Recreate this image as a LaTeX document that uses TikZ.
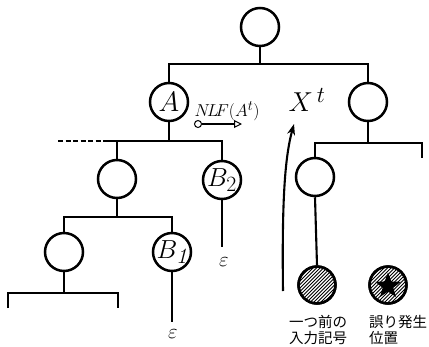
\documentclass[tikz,border=0pt]{standalone}
\usepackage{fontspec}
\newfontfamily\cjk{Noto Sans CJK JP}
\usetikzlibrary{arrows.meta,shapes.geometric,calc}
\newcommand{\bigmath}[2]{\scalebox{#1}{\fontsize{24.88}{26}\selectfont$#2$}}
\begin{document}
\begin{tikzpicture}[x=1pt,y=-1pt,
  nd/.style={circle,draw,line width=2.5pt,minimum size=38pt,inner sep=0pt},
  tr/.style={line width=2.1pt},
  eps/.style={font=\fontsize{22}{24}\selectfont},
  jp/.style={font=\cjk\fontsize{14.5}{16}\selectfont,align=left}]
\useasboundingbox (0,0) rectangle (429,346);
% nodes
\node[nd] (root) at (260,27) {};
\node[nd] (A) at (169,102) {};
\node (Al) at (A) {\bigmath{1.13}{A}};
\node[nd] (R) at (368,102) {};
\node[nd] (L) at (117,179) {};
\node[nd] (B2) at (222,180) {};
\node (B2l) at (B2) {\bigmath{1.05}{B_2}};
\node[nd] (LL) at (64,252) {};
\node[nd] (B1) at (172,252) {};
\node (B1l) at (B1) {\bigmath{1.05}{B_{\mathit{1}}}};
\node[nd] (R1) at (315,177) {};
\node[nd,minimum size=37pt] (H) at (317,285) {};
\node[nd,minimum size=37pt] (S) at (388,285) {};
% hatching
\foreach \c in {H,S}{
  \begin{scope}
    \clip (\c) circle (17.5pt);
    \foreach \k in {-42,-38.5,...,42}
      \draw[line width=0.9pt] ($(\c)+(\k-30,30)$) -- ($(\c)+(\k+30,-30)$);
  \end{scope}
  \draw[line width=2.5pt] (\c) circle (18.5pt);
}
\node[star,star points=5,star point ratio=2.4,fill=black,minimum size=27pt,inner sep=0pt] (st) at (388,286) {};
% coordinates for bars
\coordinate (b0) at (0,64);
\coordinate (b1) at (0,141);
\coordinate (b2) at (0,217);
\coordinate (b3) at (0,293);
\coordinate (b4) at (0,143);
\coordinate (d0) at (58,141);
\coordinate (d1) at (107,141);
\coordinate (e0) at (8,293);
\coordinate (e1) at (118,293);
\coordinate (e0b) at (8,308);
\coordinate (e1b) at (118,308);
\coordinate (f1) at (422,143);
\coordinate (f1b) at (422,158);
\coordinate (B1e) at (172,322);
\coordinate (B2e) at (222,247);
% tree
\draw[tr] (root.south) -- (root.south |- b0);
\draw[tr] (A.north) -- (A.north |- b0) -- (R.north |- b0) -- (R.north);
\draw[tr] (A.south) -- (A.south |- b1);
\draw[tr] (d1) -- (B2.north |- b1) -- (B2.north);
\draw[tr,dash pattern=on 5pt off 2.5pt] (d0) -- (d1);
\draw[tr] (L.north |- b1) -- (L.north);
\draw[tr] (L.south) -- (L.south |- b2);
\draw[tr] (LL.north) -- (LL.north |- b2) -- (B1.north |- b2) -- (B1.north);
\draw[tr] (LL.south) -- (LL.south |- b3);
\draw[tr] (e0b) -- (e0) -- (e1) -- (e1b);
\draw[tr] (B1.south) -- (B1e);
\draw[tr] (B2.south) -- (B2e);
\draw[tr] (R.south) -- (R.south |- b4);
\draw[tr] (R1.north) -- (R1.north |- b4) -- (f1) -- (f1b);
\draw[tr] (R1.south) -- (H.north);
% epsilons
\node[eps] (eps1) at (173,334) {$\varepsilon$};
\node[eps] (eps2) at (224,262) {$\varepsilon$};
% NLF
\node[circle,draw,line width=1pt,inner sep=0pt,minimum size=7pt] (nc) at (198,124) {};
\coordinate (ne) at (242,124);
\draw[line width=1.5pt,-{Triangle[open,length=8pt,width=8pt,line width=1pt]}] (nc) -- (ne);
\node[font=\fontsize{19}{21}\selectfont] (nlf) at (227,111) {$N\!L\!F(A^{t})$};
% X^t
\node (X) at (307,100) {\bigmath{1.1}{X^{\,t}}};
% curved arrow
\coordinate (ca0) at (283,291);
\coordinate (ca1) at (294,124);
\draw[line width=2.1pt,-{Stealth[length=11pt,width=8pt]}] (ca0) .. controls (282,210) and (284,160) .. (ca1);
% Japanese labels
\node[jp,align=center] (t1) at (318,330) {一つ前の\\入力記号};
\node[jp] (t2) at (398,330) {誤り発生\\位置};
\end{tikzpicture}
\end{document}
